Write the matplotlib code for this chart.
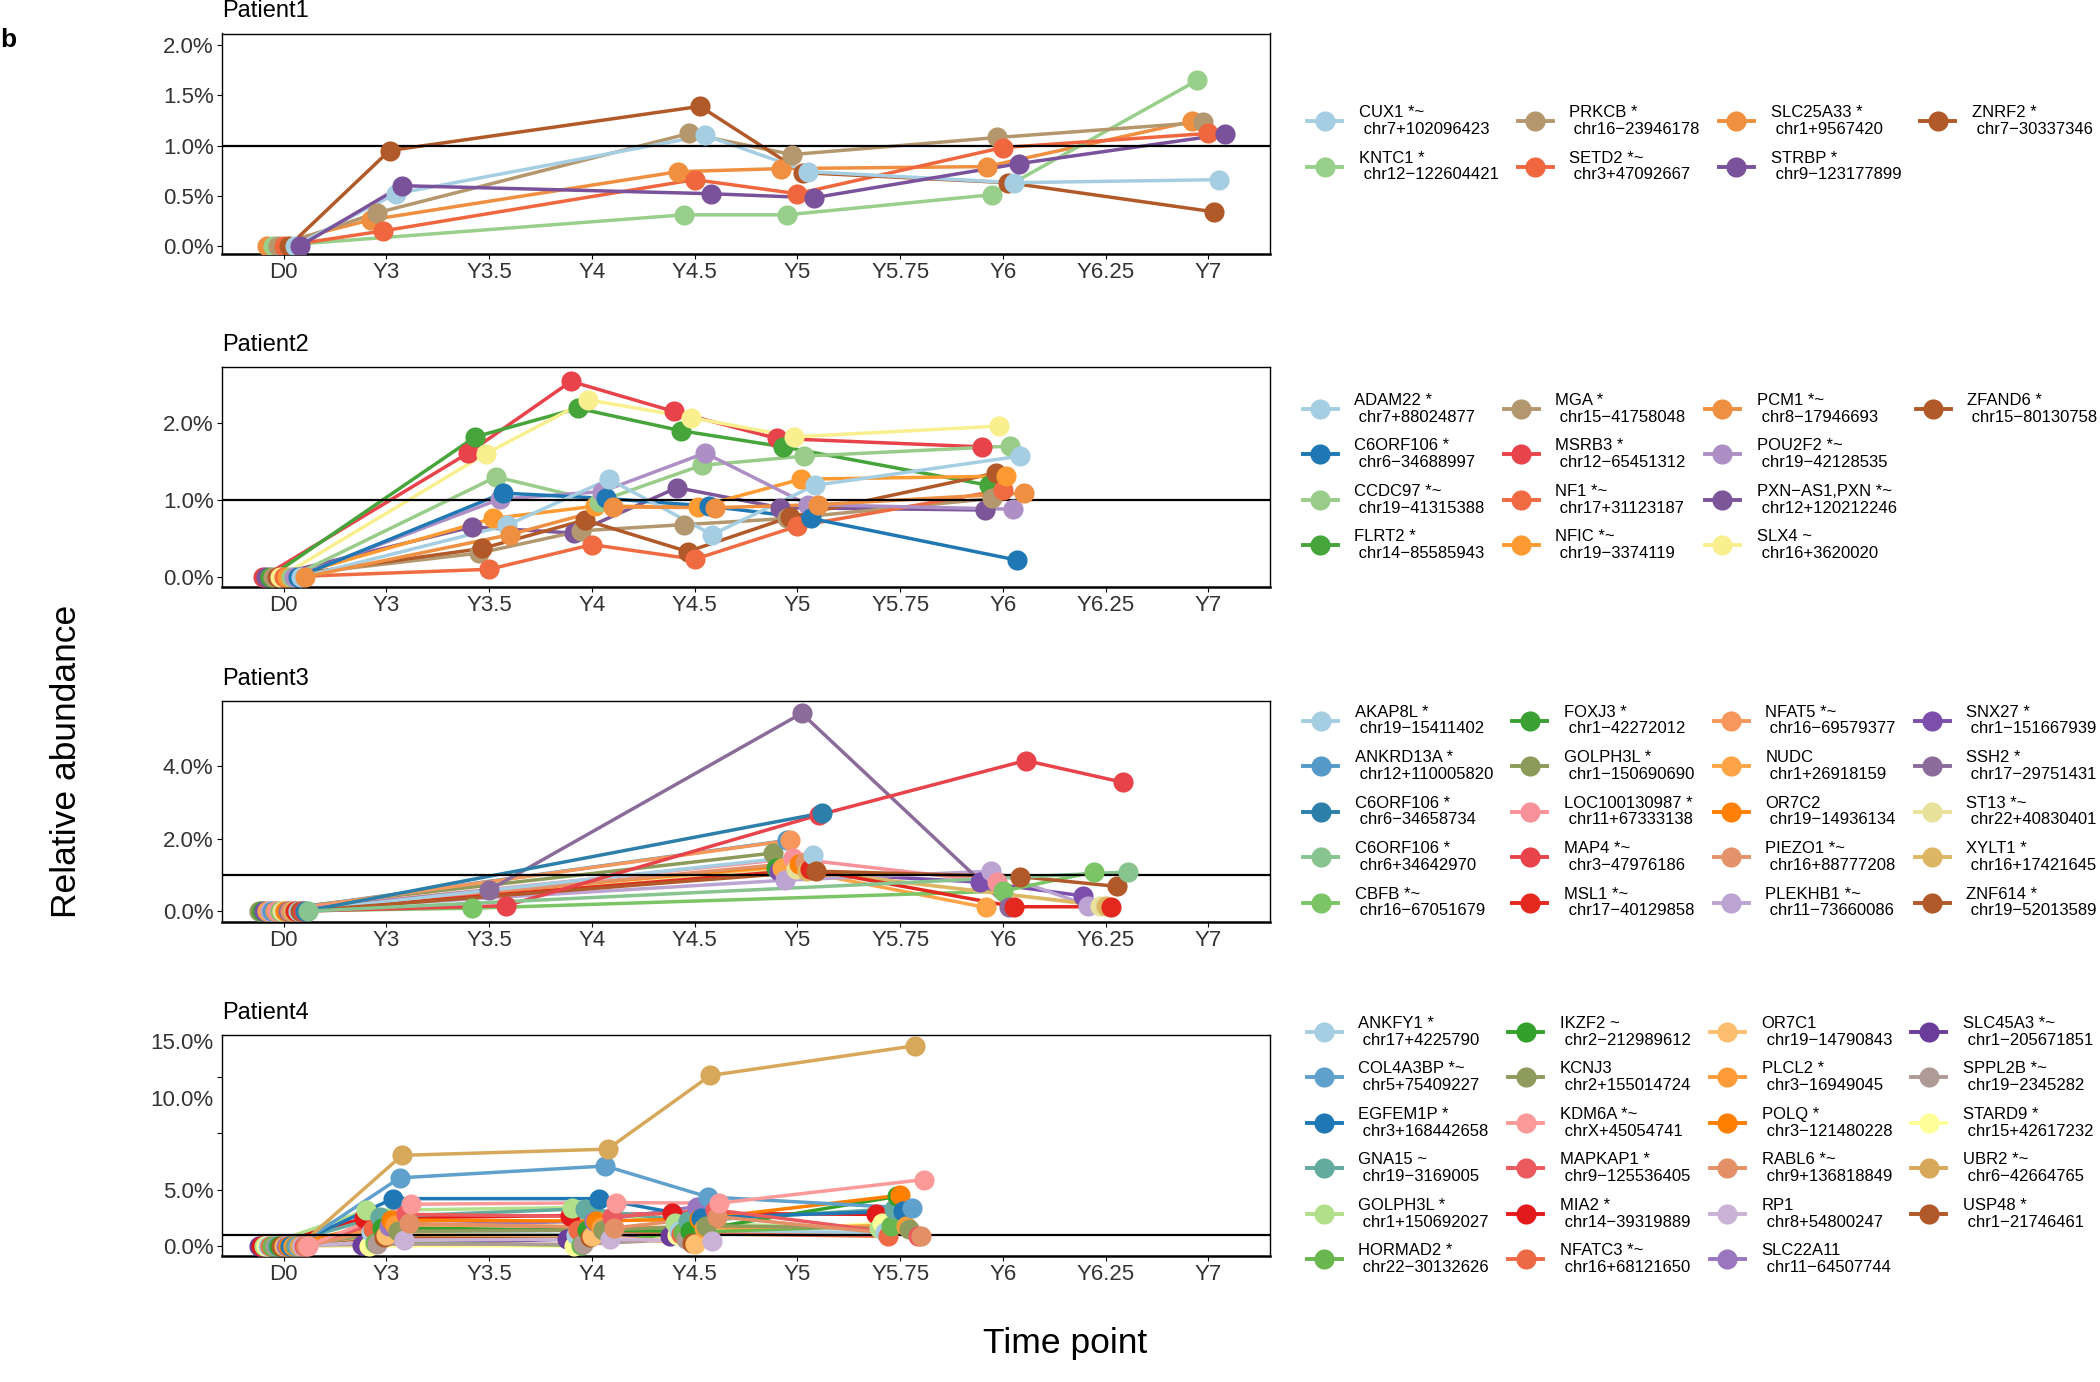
import numpy as np
import matplotlib
matplotlib.use("Agg")
import matplotlib.pyplot as plt
from matplotlib.lines import Line2D

plt.rcParams["font.family"] = ["Liberation Sans", "DejaVu Sans"]

nan = np.nan
timepoints = ["D0", "Y3", "Y3.5", "Y4", "Y4.5", "Y5", "Y5.75", "Y6", "Y6.25", "Y7"]

# ---------------- Patient1 ----------------
p1_times = ["D0", "Y3", "Y4.5", "Y5", "Y6", "Y7"]
p1_genes = ["CUX1 *~", "KNTC1 *", "PRKCB *", "SETD2 *~", "SLC25A33 *", "STRBP *", "ZNRF2 *"]
p1_sites = ["chr7+102096423", "chr12−122604421", "chr16−23946178", "chr3+47092667",
            "chr1+9567420", "chr9−123177899", "chr7−30337346"]
p1_colors = ["#a6cee3", "#98cf8a", "#b5976e", "#f0663f", "#ef8f3f", "#7a529b", "#b15928"]
p1_groups = [6, 2, 3, 4, 1, 7, 5]
p1_values = [
    [0, 0.52, 1.10, 0.74, 0.63, 0.66],
    [0, nan, 0.31, 0.31, 0.51, 1.65],
    [0, 0.33, 1.12, 0.91, 1.08, 1.23],
    [0, 0.15, 0.66, 0.52, 0.98, 1.12],
    [0, 0.26, 0.74, 0.77, 0.79, 1.24],
    [0, 0.60, 0.52, 0.48, 0.82, 1.11],
    [0, 0.95, 1.39, 0.73, 0.63, 0.34],
]

# ---------------- Patient2 ----------------
p2_times = ["D0", "Y3.5", "Y4", "Y4.5", "Y5", "Y6"]
p2_genes = ["ADAM22 *", "C6ORF106 *", "CCDC97 *~", "FLRT2 *", "MGA *", "MSRB3 *", "NF1 *~",
            "NFIC *~", "PCM1 *~", "POU2F2 *~", "PXN−AS1,PXN *~", "SLX4 ~", "ZFAND6 *"]
p2_sites = ["chr7+88024877", "chr6−34688997", "chr19−41315388", "chr14−85585943",
            "chr15−41758048", "chr12−65451312", "chr17+31123187", "chr19−3374119",
            "chr8−17946693", "chr19−42128535", "chr12+120212246", "chr16+3620020",
            "chr15−80130758"]
p2_colors = ["#a6cee3", "#1f78b4", "#98cc88", "#45a43a", "#b3976e", "#e8424a", "#f06a42",
             "#fd9b32", "#ef8f42", "#ad8fc6", "#7d5599", "#f9ef8f", "#b15928"]
p2_groups = [12, 11, 9, 3, 4, 1, 7, 8, 13, 10, 2, 6, 5]
p2_values = [
    [0, 0.67, 1.27, 0.55, 1.19, 1.57],
    [0, 1.09, 1.02, 0.92, 0.76, 0.22],
    [0, 1.30, 0.98, 1.45, 1.57, 1.70],
    [0, 1.82, 2.19, 1.90, 1.69, 1.19],
    [0, 0.31, 0.60, 0.68, 0.76, 1.02],
    [0, 1.61, 2.54, 2.15, 1.80, 1.69],
    [0, 0.10, 0.42, 0.23, 0.66, 1.13],
    [0, 0.76, 0.92, 0.91, 1.27, 1.31],
    [0, 0.55, 0.91, 0.90, 0.94, 1.09],
    [0, 1.01, 1.11, 1.61, 0.94, 0.88],
    [0, 0.65, 0.57, 1.16, 0.90, 0.87],
    [0, 1.60, 2.30, 2.07, 1.82, 1.96],
    [0, 0.37, 0.74, 0.33, 0.78, 1.35],
]

# ---------------- Patient3 ----------------
p3_times = ["D0", "Y3.5", "Y5", "Y6", "Y6.25"]
p3_genes = ["AKAP8L *", "ANKRD13A *", "C6ORF106 *", "C6ORF106 *", "CBFB *~",
            "FOXJ3 *", "GOLPH3L *", "LOC100130987 *", "MAP4 *~", "MSL1 *~",
            "NFAT5 *~", "NUDC", "OR7C2", "PIEZO1 *~", "PLEKHB1 *~",
            "SNX27 *", "SSH2 *", "ST13 *~", "XYLT1 *", "ZNF614 *"]
p3_sites = ["chr19−15411402", "chr12+110005820", "chr6−34658734", "chr6+34642970",
            "chr16−67051679", "chr1−42272012", "chr1−150690690", "chr11+67333138",
            "chr3−47976186", "chr17−40129858", "chr16−69579377", "chr1+26918159",
            "chr19−14936134", "chr16+88777208", "chr11−73660086", "chr1−151667939",
            "chr17−29751431", "chr22+40830401", "chr16+17421645", "chr19−52013589"]
p3_colors = ["#a6cee3", "#5599c8", "#2c7fa8", "#87c48f", "#7cc567", "#3aa034", "#8c9a5a",
             "#f7929a", "#e8424a", "#e3291f", "#f6985c", "#fda546", "#fe8006", "#e3926a",
             "#bba4d2", "#7b4fab", "#8b6b9a", "#e8e19c", "#ddb664", "#b15928"]
p3_groups = [16, 6, 19, 20, 9, 2, 1, 8, 18, 15, 7, 4, 11, 13, 5, 3, 12, 10, 14, 17]
p3_values = [
    [0, nan, 1.55, nan, nan],
    [0, nan, 1.95, nan, nan],
    [0, nan, 2.70, nan, nan],
    [0, nan, nan, nan, 1.08],
    [0, 0.08, nan, 0.55, 1.08],
    [0, nan, 1.20, nan, nan],
    [0, nan, 1.60, nan, nan],
    [0, nan, 1.45, 0.80, nan],
    [0, 0.15, 2.65, 4.15, 3.55],
    [0, nan, 1.15, 0.12, 0.12],
    [0, nan, 1.95, nan, nan],
    [0, nan, 1.20, 0.10, nan],
    [0, nan, 1.30, nan, nan],
    [0, nan, 1.35, nan, nan],
    [0, nan, 0.85, 1.10, 0.15],
    [0, nan, 1.10, 0.80, 0.42],
    [0, 0.58, 5.45, 0.10, nan],
    [0, nan, 1.15, nan, 0.15],
    [0, nan, 1.10, nan, 0.15],
    [0, nan, 1.10, 0.95, 0.68],
]

# ---------------- Patient4 ----------------
p4_times = ["D0", "Y3", "Y4", "Y4.5", "Y5.75"]
p4_genes = ["ANKFY1 *", "COL4A3BP *~", "EGFEM1P *", "GNA15 ~", "GOLPH3L *", "HORMAD2 *",
            "IKZF2 ~", "KCNJ3", "KDM6A *~", "MAPKAP1 *", "MIA2 *", "NFATC3 *~",
            "OR7C1", "PLCL2 *", "POLQ *", "RABL6 *~", "RP1", "SLC22A11",
            "SLC45A3 *~", "SPPL2B *~", "STARD9 *", "UBR2 *~", "USP48 *"]
p4_sites = ["chr17+4225790", "chr5+75409227", "chr3+168442658", "chr19−3169005",
            "chr1+150692027", "chr22−30132626", "chr2−212989612", "chr2+155014724",
            "chrX+45054741", "chr9−125536405", "chr14−39319889", "chr16+68121650",
            "chr19−14790843", "chr3−16949045", "chr3−121480228", "chr9+136818849",
            "chr8+54800247", "chr11−64507744", "chr1−205671851", "chr19−2345282",
            "chr15+42617232", "chr6−42664765", "chr1−21746461"]
p4_colors = ["#a6cee3", "#5fa0cc", "#1f78b4", "#63aa9f", "#b2df8a", "#6ab74f", "#33a02c",
             "#8e9b5d", "#fb9a99", "#eb5a5f", "#e31a1c", "#ee6a47", "#fdbf6f", "#fe9c3a",
             "#ff7f00", "#e39066", "#cab2d6", "#9a76be", "#6a3d9a", "#b09a96", "#ffff99",
             "#d8a85a", "#b15928"]
p4_groups = [5, 18, 15, 9, 3, 7, 10, 17, 23, 21, 2, 6, 12, 16, 14, 22, 20, 13, 1, 8, 4, 19, 11]
p4_values = [
    [0, 1.20, 1.00, 1.30, 1.20],
    [0, 6.05, 7.10, 4.35, 3.35],
    [0, 4.20, 4.20, 2.50, 3.10],
    [0, 2.60, 3.30, 2.20, 3.30],
    [0, 3.15, 3.40, 2.00, 1.60],
    [0, 0.30, 0.05, 1.20, 1.80],
    [0, 1.60, 1.40, 1.30, 4.40],
    [0, 1.30, 1.40, 1.80, 1.50],
    [0, 3.70, 3.85, 3.80, 5.90],
    [0, 2.80, 2.60, 3.20, 0.90],
    [0, 2.45, 2.70, 2.90, 2.80],
    [0, 1.50, 1.40, 1.10, 0.85],
    [0, 1.00, 0.90, 0.20, nan],
    [0, 1.90, 1.70, 1.60, 1.80],
    [0, 2.30, 2.20, 2.40, 4.50],
    [0, 2.00, 1.60, 2.60, 0.85],
    [0, 0.50, 0.60, 0.40, nan],
    [0, 1.80, 2.20, 3.50, nan],
    [0, 0.05, 0.60, 0.90, nan],
    [0, 0.15, 0.15, 0.60, nan],
    [0, 0.00, 0.00, 1.00, 2.00],
    [0, 8.05, 8.60, 15.15, 17.80],
    [0, 0.80, 0.80, 0.30, nan],
]

panels = [
    ("Patient1", p1_times, p1_genes, p1_sites, p1_colors, p1_groups, p1_values),
    ("Patient2", p2_times, p2_genes, p2_sites, p2_colors, p2_groups, p2_values),
    ("Patient3", p3_times, p3_genes, p3_sites, p3_colors, p3_groups, p3_values),
    ("Patient4", p4_times, p4_genes, p4_sites, p4_colors, p4_groups, p4_values),
]

# layout (pixel rows of each panel in a 2100x1382 canvas)
W, H = 2100, 1382
ax_left, ax_right = 222, 1270
panel_rows = [(33.5, 254), (367, 587), (701, 922), (1035, 1256)]
ylims = [(-0.08, 2.115), (-0.13, 2.727), (-0.30, 5.79), (-0.9, 18.75)]
yticks = [[0, 0.5, 1, 1.5, 2], [0, 1, 2], [0, 2, 4], [0, 5, 10, 15]]
dodge_w = [0.37, 0.44, 0.5, 0.5]

fig = plt.figure(figsize=(21, 13.82), dpi=100)

for k, (title, times, genes, sites, colors, groups, values) in enumerate(panels):
    top, bot = panel_rows[k]
    ax = fig.add_axes([ax_left / W, 1 - bot / H, (ax_right - ax_left) / W, (bot - top) / H])
    vals = np.array(values, dtype=float)
    xs = [timepoints.index(t) for t in times]
    order = list(np.argsort(groups))

    # dodge points among the clones present at each time point
    xpos = np.full(vals.shape, np.nan)
    for j, x in enumerate(xs):
        present = [i for i in order if not np.isnan(vals[i, j])]
        n = len(present)
        w = dodge_w[k]
        for r, i in enumerate(present):
            xpos[i, j] = x - w / 2 + (r + 0.5) * w / n

    for i in order:
        ok = ~np.isnan(vals[i])
        ax.plot(xpos[i, ok], vals[i, ok], color=colors[i], lw=2.5, zorder=2)
    ax.axhline(1.0, color="black", lw=1.6, zorder=3)
    for i in order:
        ok = ~np.isnan(vals[i])
        ax.plot(xpos[i, ok], vals[i, ok], ls="none", marker="o", ms=14.5, mew=0,
                color=colors[i], zorder=4)

    ax.set_xlim(-0.6, len(timepoints) - 0.4)
    ax.set_xticks(range(len(timepoints)))
    ax.set_xticklabels(timepoints)
    ax.set_ylim(*ylims[k])
    ax.set_yticks(yticks[k])
    ticklabels = ["%.1f%%" % v for v in yticks[k]]
    if k == 3:
        # upper labels sit shifted above their ticks in the original figure
        for v in yticks[k][2:]:
            ax.annotate("%.1f%%" % v, xy=(0, v), xycoords=("axes fraction", "data"),
                        xytext=(-6, 24), textcoords="offset points",
                        ha="right", va="center", fontsize=16, color="#333333")
        ticklabels = ticklabels[:2] + ["", ""]
    ax.set_yticklabels(ticklabels)
    ax.tick_params(length=3.6, width=0.8, pad=2.5, labelsize=16, labelcolor="#333333")
    for s in ax.spines.values():
        s.set_linewidth(1.0)
    ax.spines["bottom"].set_linewidth(1.8)

    ax.annotate(title, xy=(0, 1), xycoords="axes fraction", xytext=(0, 16),
                textcoords="offset points", ha="left", va="center", fontsize=17)

    # legend: 4 columns filled column-wise, padded to full columns
    nrow = int(np.ceil(len(genes) / 4))
    handles = [Line2D([], [], color=c, lw=2.8, marker="o", ms=14.5, mew=0) for c in colors]
    labels = ["%s\n %s" % (g, s) for g, s in zip(genes, sites)]
    while len(handles) < nrow * 4:
        handles.append(Line2D([], [], alpha=0))
        labels.append("")
    cy = 1 - (top + bot) / 2 / H
    leg = fig.legend(handles, labels, loc="center", bbox_to_anchor=(1700 / W, cy),
                     ncols=4, frameon=False, fontsize=12, handlelength=2.1,
                     handletextpad=1.0, columnspacing=1.15, labelspacing=0.82,
                     borderpad=0, borderaxespad=0)
    for t in leg.get_texts():
        t.set_linespacing(1.15)

fig.text(67 / W, 1 - 761 / H, "Relative abundance", rotation=90, fontsize=25.5,
         ha="center", va="center")
fig.text(1065 / W, 1 - 1343 / H, "Time point", fontsize=25.5, ha="center", va="center")
fig.text(8 / W, 1 - 40 / H, "b", fontsize=19, fontweight="bold", ha="center", va="center")

fig.savefig("out.png", dpi=100)
